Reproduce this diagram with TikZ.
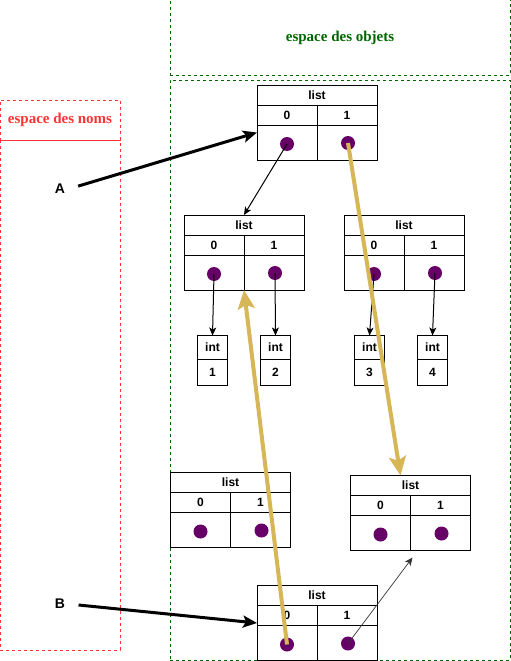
\documentclass[tikz,border=0pt]{standalone}
\usepackage{fontspec}
\setmainfont{Liberation Sans}
\newfontfamily\titlefont{Liberation Serif}
\usetikzlibrary{arrows.meta}
\definecolor{objgreen}{HTML}{006600}
\definecolor{nomred}{HTML}{FF3333}
\definecolor{ptrpurple}{HTML}{660066}
\definecolor{goldline}{HTML}{D6B656}
\tikzset{
  objbox/.style={draw, line width=1pt, anchor=north west, inner sep=0pt, outer sep=0pt},
  lbl/.style={font=\fontsize{12}{14}\selectfont\bfseries, inner sep=0pt},
  ptr/.style={circle, fill=ptrpurple, minimum size=14pt, inner sep=0pt},
  ref/.style={-{Stealth[length=8pt,width=7pt,inset=2pt]}, line width=1pt},
  goldref/.style={-{Stealth[length=19pt,width=17pt,inset=4pt]}, line width=4pt, draw=goldline},
  bigref/.style={-{Stealth[length=14pt,width=12pt,inset=3pt]}, line width=3pt, shorten <=10pt},
  zone/.style={dash pattern=on 3pt off 3pt, line width=1pt, inner sep=0pt},
  zonetitle/.style={font=\titlefont\fontsize{15}{17}\selectfont\bfseries},
  varname/.style={font=\fontsize{14}{16}\selectfont\bfseries}
}
\newcommand{\listobj}[3]{%
  \node[objbox, minimum width=120pt, minimum height=75pt] (#1) at (#2,#3) {};
  \draw[line width=1pt] (#2,#3+20) -- ++(120,0) (#2,#3+40) -- ++(120,0) (#2+60,#3+20) -- ++(0,55);
  \node[lbl] (#1-t) at (#2+60,#3+10) {list};
  \node[lbl] (#1-i0) at (#2+30,#3+30) {0};
  \node[lbl] (#1-i1) at (#2+90,#3+30) {1};
  \node[ptr] (#1-p0) at (#2+30,#3+59) {};
  \node[ptr] (#1-p1) at (#2+91,#3+58) {};
}
\newcommand{\intobj}[4]{%
  \node[objbox, minimum width=30pt, minimum height=50pt] (#1) at (#2,#3) {};
  \draw[line width=1pt] (#2,#3+23.5) -- ++(30,0);
  \node[lbl] (#1-t) at (#2+15,#3+12) {int};
  \node[lbl] (#1-v) at (#2+15,#3+37) {#4};
}

\begin{document}
\begin{tikzpicture}[x=1pt,y=-1pt]
\useasboundingbox (0,0) rectangle (511,661);
% zones
\node[zone, draw=objgreen, minimum width=340pt, minimum height=75pt, zonetitle, text=objgreen] (objhead) at (340,37.5) {espace des objets};
\node[zone, draw=objgreen, minimum width=340pt, minimum height=580pt] (objspace) at (340,370) {};
\node[zone, draw=nomred, minimum width=120pt, minimum height=40pt, zonetitle, text=nomred] (nomhead) at (60,120) {espace des noms};
\node[zone, draw=nomred, minimum width=120pt, minimum height=510pt] (nomspace) at (60,395) {};
% objects
\listobj{top}{257}{85}
\listobj{ml}{184}{215}
\listobj{mr}{344}{215}
\listobj{bl}{170.5}{472.5}
\listobj{br}{350.5}{475.5}
\listobj{bot}{257}{585.5}
\intobj{i1}{197.5}{335.5}{1}
\intobj{i2}{260.5}{335.5}{2}
\intobj{i3}{354.5}{335.5}{3}
\intobj{i4}{417.5}{335.5}{4}
% names
\node[varname] (A) at (60,189) {A};
\node[varname] (B) at (60,604) {B};
\coordinate (brtip) at ([xshift=2pt,yshift=-7pt]br.south);
% references
\draw[ref] (top-p0.center) -- (ml.north);
\draw[ref] (ml-p0.center) -- (i1.north);
\draw[ref] (ml-p1.center) -- (i2.north);
\draw[ref] (mr-p0.center) -- (i3.north);
\draw[ref] (mr-p1.center) -- (i4.north);
\draw[ref, line width=0.7pt, draw=black!80] (bot-p1.center) -- (brtip);
\draw[goldref] (top-p1.center) -- ([xshift=-10pt]br.north);
\draw[goldref] (bot-p0.center) -- (ml.south);
\draw[bigref] (A.east) -- ([yshift=-10pt]top.west);
\draw[bigref] (B.east) -- (bot.west);
\end{tikzpicture}
\end{document}
